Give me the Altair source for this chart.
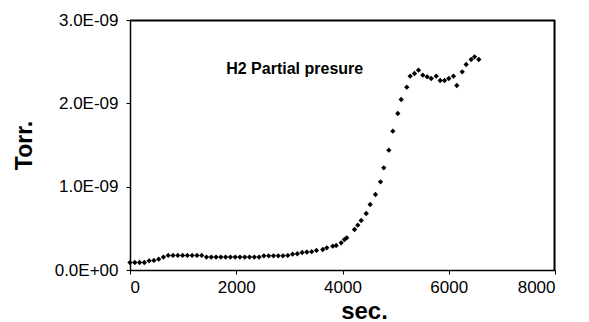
import altair as alt
import pandas as pd

# time (sec)
sec = [0, 90, 180, 270, 360, 450, 540, 630, 720, 810, 900, 990, 1080, 1170, 1260, 1350,
       1440, 1530, 1620, 1710, 1800, 1890, 1980, 2070, 2160, 2250, 2340, 2430,
       2520, 2610, 2700, 2790, 2880, 2970, 3060, 3150, 3240, 3330, 3420, 3510,
       3629, 3704, 3817, 3881, 3975, 4037, 4080, 4226, 4288, 4352, 4446, 4521, 4621,
       4715, 4777, 4872, 4947, 5041, 5105, 5210, 5274, 5355, 5431, 5512, 5594, 5670,
       5764, 5839, 5920, 6001, 6089, 6151, 6253, 6328, 6422, 6485, 6566]
# H2 partial pressure, in units of 1e-9 Torr
torr_e9 = [0.09, 0.09, 0.09, 0.09, 0.11, 0.115, 0.13, 0.155, 0.175, 0.175, 0.175, 0.175, 0.175, 0.175, 0.175, 0.175,
           0.155, 0.155, 0.155, 0.155, 0.155, 0.155, 0.155, 0.155, 0.155, 0.155, 0.155, 0.155,
           0.17, 0.17, 0.17, 0.17, 0.17, 0.175, 0.19, 0.195, 0.21, 0.215, 0.22, 0.235,
           0.246, 0.266, 0.286, 0.294, 0.326, 0.366, 0.386, 0.486, 0.538, 0.594, 0.678, 0.786, 0.906,
           1.058, 1.226, 1.438, 1.666, 1.878, 2.046, 2.194, 2.326, 2.358, 2.398, 2.338, 2.318, 2.298,
           2.326, 2.274, 2.274, 2.298, 2.326, 2.214, 2.378, 2.466, 2.526, 2.558, 2.526]

label_text = ["H2 Partial presure"]
label_x = [3100]
label_y_e9 = [2.41]

x_ticks = [0, 2000, 4000, 6000, 8000]
y_ticks_e9 = [0, 1, 2, 3]

df = pd.DataFrame({"sec": sec, "torr": [v / 1e9 for v in torr_e9]})
lab = pd.DataFrame({"t": label_text, "x": label_x, "y": [v / 1e9 for v in label_y_e9]})

FONT = "Liberation Sans"
W, H = 425, 250

x_enc = alt.X(
    "sec:Q",
    scale=alt.Scale(domain=[0, 8000], nice=False),
    axis=alt.Axis(
        values=x_ticks, format="d", title="sec.", grid=False, domainColor="black", tickColor="black",
        domainWidth=1.5, tickSize=4, labelFont=FONT, labelFontSize=17, labelColor="black", labelPadding=5,
        labelOverlap=False,
        titleFont=FONT, titleFontSize=24, titleFontWeight="bold", titleColor="black",
        titlePadding=4, titleX=234, titleAlign="center",
    ),
)
y_enc = alt.Y(
    "torr:Q",
    scale=alt.Scale(domain=[0, 3 / 1e9], nice=False),
    axis=alt.Axis(
        values=[v / 1e9 for v in y_ticks_e9], title="Torr.", grid=False,
        domainColor="black", domainWidth=1.5, tickColor="black", tickSize=4, labelOverlap=False,
        labelFont=FONT, labelFontSize=17, labelColor="black", labelPadding=8,
        labelExpr="datum.value < 1e-12 ? '0.0E+00' : format(datum.value * 1e9, '.1f') + 'E-09'",
        titleFont=FONT, titleFontSize=23, titleFontWeight="bold", titleColor="black",
        titlePadding=18,
    ),
)

pts = alt.Chart(df).mark_point(shape="diamond", filled=True, color="black", size=28, opacity=1).encode(
    x=x_enc, y=y_enc
)

txt = alt.Chart(lab).mark_text(font=FONT, fontSize=16, fontWeight="bold", color="black",
                               align="center", baseline="middle").encode(
    x=alt.X("x:Q"), y=alt.Y("y:Q"), text="t:N"
)

# frame: top and right edges of the plot box
top_edge = alt.Chart(lab).mark_rule(color="#000000", strokeWidth=2).encode(
    x=alt.value(0), x2=alt.value(W), y=alt.value(0.5)
)
right_edge = alt.Chart(lab).mark_rule(color="#000000", strokeWidth=2).encode(
    x=alt.value(W - 0.5), y=alt.value(0), y2=alt.value(H)
)

chart = (pts + txt + top_edge + right_edge).properties(
    width=W, height=H,
    autosize=alt.AutoSizeParams(type="none"),
    padding={"left": 130, "top": 20, "right": 34, "bottom": 52},
).configure_view(stroke="black", strokeWidth=1).configure(background="white")

chart.save("out.html", embed_options={"renderer": "svg", "actions": False})
